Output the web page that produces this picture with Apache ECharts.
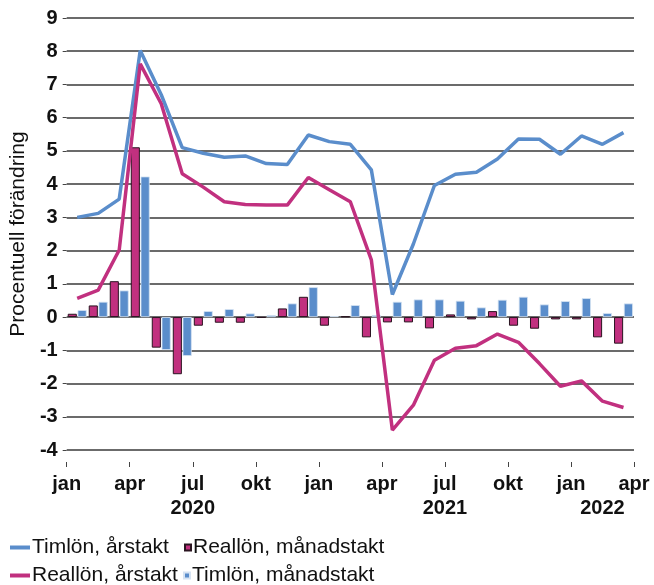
<!DOCTYPE html>
<html>
<head>
<meta charset="utf-8">
<script src="https://cdn.jsdelivr.net/npm/echarts@6/dist/echarts.min.js"></script>
<style>
  html, body { margin: 0; padding: 0; background: #fff; }
  #chart { width: 654px; height: 585px; }
</style>
</head>
<body>
<div id="chart"></div>
<script>
// månader jan 2020 - mar 2022
const months = ['jan 2020','feb 2020','mar 2020','apr 2020','maj 2020','jun 2020','jul 2020','aug 2020','sep 2020','okt 2020','nov 2020','dec 2020',
  'jan 2021','feb 2021','mar 2021','apr 2021','maj 2021','jun 2021','jul 2021','aug 2021','sep 2021','okt 2021','nov 2021','dec 2021',
  'jan 2022','feb 2022','mar 2022'];
const tickLabels = ['jan','apr','jul','okt','jan','apr','jul','okt','jan','apr'];
const yearLabels = { 6: '2020', 18: '2021', 25.5: '2022' };

const timlonAr = [3.0,3.12,3.55,8.02,6.69,5.1,4.93,4.81,4.85,4.62,4.59,5.48,5.28,5.2,4.43,0.68,2.2,3.96,4.3,4.36,4.76,5.36,5.35,4.9,5.45,5.2,5.55];
const reallonAr = [0.56,0.81,2.02,7.62,6.42,4.31,3.91,3.47,3.39,3.37,3.37,4.2,3.83,3.47,1.72,-3.4,-2.65,-1.3,-0.94,-0.86,-0.51,-0.76,-1.4,-2.08,-1.92,-2.53,-2.72];
const reallonManad = [0.1,0.35,1.08,5.11,-0.92,-1.72,-0.26,-0.17,-0.17,-0.02,0.26,0.61,-0.26,0.02,-0.61,-0.16,-0.16,-0.34,0.08,-0.07,0.18,-0.26,-0.35,-0.07,-0.07,-0.61,-0.8];
const timlonManad = [0.21,0.46,0.8,4.23,-0.99,-1.17,0.18,0.24,0.11,0.06,0.41,0.9,0.03,0.36,0.06,0.46,0.53,0.53,0.49,0.29,0.52,0.61,0.38,0.48,0.57,0.12,0.41];

const blue = '#5A8DCB';
const magenta = '#C1307F';
const font = 'Liberation Sans, Arial, sans-serif';

const chart = echarts.init(document.getElementById('chart'));

const legendBase = {
    orient: 'horizontal',
    padding: 0,
    itemGap: 0,
    textStyle: { fontFamily: font, fontSize: 21, color: '#111', padding: [0, 0, 0, -3] }
};

chart.setOption({
    backgroundColor: '#fff',
    animation: false,
    grid: { left: 62, right: 20, top: 18, bottom: 135 },
    legend: [
        Object.assign({}, legendBase, { data: ['Timlön, årstakt'], left: 10, top: 537, itemWidth: 20, itemHeight: 4, icon: 'rect' }),
        Object.assign({}, legendBase, { data: ['Reallön, månadstakt'], left: 184, top: 537, itemWidth: 6, itemHeight: 6, icon: 'rect' }),
        Object.assign({}, legendBase, { data: ['Reallön, årstakt'], left: 10, top: 565, itemWidth: 20, itemHeight: 4, icon: 'rect' }),
        Object.assign({}, legendBase, { data: ['Timlön, månadstakt'], left: 183, top: 565, itemWidth: 6, itemHeight: 6, icon: 'rect' })
    ],
    xAxis: [
        {
            type: 'category',
            data: months,
            boundaryGap: true,
            axisLine: { show: false },
            axisTick: { show: false },
            axisLabel: { show: false },
            splitLine: { show: false }
        },
        {
            type: 'value',
            min: 0, max: 27, interval: 3,
            position: 'bottom',
            offset: 12,
            axisLine: { show: false },
            axisTick: { show: true, length: 5, lineStyle: { color: '#444', width: 1 } },
            axisLabel: {
                margin: 12,
                fontFamily: font, fontSize: 20, fontWeight: 'bold', color: '#111',
                formatter: v => tickLabels[Math.round(v / 3)] || ''
            },
            splitLine: { show: false }
        },
        {
            type: 'value',
            min: 0, max: 27, interval: 1.5,
            position: 'bottom',
            offset: 12,
            axisLine: { show: false },
            axisTick: { show: false },
            axisLabel: {
                margin: 36,
                fontFamily: font, fontSize: 20, fontWeight: 'bold', color: '#111',
                formatter: v => yearLabels[v] || ''
            },
            splitLine: { show: false }
        }
    ],
    yAxis: {
        type: 'value',
        min: -4, max: 9, interval: 1,
        name: 'Procentuell förändring',
        nameLocation: 'middle',
        nameGap: 37,
        nameTextStyle: { fontFamily: font, fontSize: 21, color: '#111' },
        axisLine: { show: false },
        axisTick: { show: true, length: 4, lineStyle: { color: '#444' } },
        axisLabel: { margin: 9, fontFamily: font, fontSize: 20, fontWeight: 'bold', color: '#111' },
        splitLine: { lineStyle: { color: '#3a3a3a', width: 1.5 } }
    },
    series: [
        {
            name: 'Reallön, månadstakt',
            type: 'bar',
            data: reallonManad,
            barGap: '8%',
            barCategoryGap: '10%',
            itemStyle: { color: magenta, borderColor: '#2a1420', borderWidth: 1 }
        },
        {
            name: 'Timlön, månadstakt',
            type: 'bar',
            data: timlonManad,
            itemStyle: { color: blue, borderColor: '#d6e3f3', borderWidth: 0.8 }
        },
        {
            name: 'Timlön, årstakt',
            type: 'line',
            data: timlonAr,
            symbol: 'none',
            lineStyle: { color: blue, width: 3.5 },
            itemStyle: { color: blue }
        },
        {
            name: 'Reallön, årstakt',
            type: 'line',
            data: reallonAr,
            symbol: 'none',
            lineStyle: { color: magenta, width: 3.5 },
            itemStyle: { color: magenta }
        }
    ]
});
</script>
</body>
</html>
